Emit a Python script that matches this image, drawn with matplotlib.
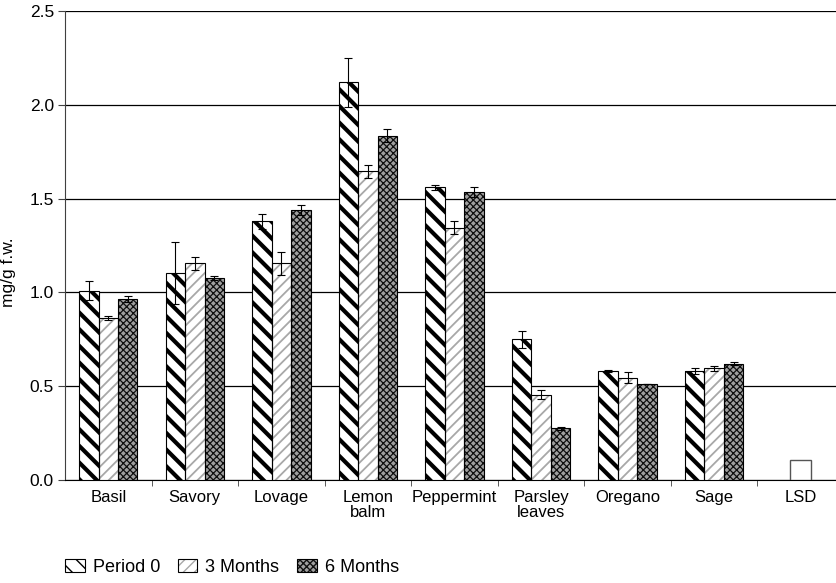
#!/usr/bin/env python3
"""Grouped bar chart of herb content (mg/g f.w.) over storage time."""

import matplotlib

matplotlib.use("Agg")
import matplotlib.pyplot as plt
import numpy as np
from matplotlib.legend_handler import HandlerTuple
from matplotlib.patches import Patch

herbs = ["Basil", "Savory", "Lovage", "Lemon\nbalm", "Peppermint",
         "Parsley\nleaves", "Oregano", "Sage"]
categories = herbs + ["LSD"]

series_names = ["Period 0", "3 Months", "6 Months"]
period0 = [1.01, 1.105, 1.38, 2.12, 1.56, 0.75, 0.58, 0.58]
months3 = [0.865, 1.155, 1.155, 1.645, 1.345, 0.455, 0.545, 0.595]
months6 = [0.965, 1.075, 1.44, 1.835, 1.535, 0.275, 0.51, 0.62]

period0_err = [0.05, 0.165, 0.04, 0.13, 0.012, 0.045, 0.005, 0.015]
months3_err = [0.01, 0.035, 0.062, 0.034, 0.035, 0.025, 0.03, 0.012]
months6_err = [0.015, 0.01, 0.027, 0.035, 0.025, 0.01, 0.0, 0.008]

lsd = 0.105

yticks = [0.0, 0.5, 1.0, 1.5, 2.0, 2.5]

plt.rcParams["font.family"] = ["Liberation Sans", "DejaVu Sans"]
plt.rcParams["font.size"] = 12.5

fig = plt.figure(figsize=(8.37, 5.83), dpi=100)
ax = fig.add_axes([65 / 837, 103 / 583, 779 / 837, 469 / 583])

x = np.arange(len(herbs))
width = 0.225

# (hatch, hatch colour, face colour, hatch linewidth) per series
STRIPE = ("\\\\", "black", "white", 3.0)
DASH = ("///", "#a8a8a8", "white", 1.3)
CHECK = ("xxxxx", "#101010", "#a0a0a0", 0.9)


def hatched(pos, vals, style):
    hatch, hcol, face, lw = style
    with plt.rc_context({"hatch.linewidth": lw}):
        bars = ax.bar(pos, vals, width, color=face, edgecolor=hcol,
                      hatch=hatch, linewidth=0, zorder=3)
    for p in bars:
        if hasattr(p, "set_hatch_linewidth"):
            p.set_hatch_linewidth(lw)
    ax.bar(pos, vals, width, fill=False, edgecolor="black", linewidth=0.8,
           zorder=3.5)


def proxy(style):
    hatch, hcol, face, lw = style
    with plt.rc_context({"hatch.linewidth": lw}):
        p = Patch(facecolor=face, edgecolor=hcol, hatch=hatch, linewidth=0)
    if hasattr(p, "set_hatch_linewidth"):
        p.set_hatch_linewidth(lw)
    return (p, Patch(fill=False, edgecolor="black", linewidth=0.8))


hatched(x - width, period0, STRIPE)
hatched(x, months3, DASH)
hatched(x + width, months6, CHECK)

ax.bar(len(herbs), lsd, width * 1.05, color="white", edgecolor="#555555",
       linewidth=1.0, zorder=3)

for offs, vals, errs in [(-width, period0, period0_err),
                         (0, months3, months3_err),
                         (width, months6, months6_err)]:
    ax.errorbar(x + offs, vals, yerr=errs, fmt="none", ecolor="black",
                elinewidth=0.8, capsize=2.8, capthick=0.8, zorder=4)

ax.set_xlim(-0.5, len(categories) - 0.5)
ax.set_ylim(0, 2.5)
ax.set_yticks(yticks)
ax.set_yticklabels([f"{v:.1f}" for v in yticks])
ax.yaxis.grid(True, color="black", linewidth=0.9)
ax.set_axisbelow(True)

ax.set_xticks(np.arange(len(categories)))
ax.set_xticklabels(categories, linespacing=1.05, fontsize=12)
ax.set_xticks(np.arange(len(categories) - 1) + 0.5, minor=True)
ax.tick_params(axis="x", which="major", length=0, pad=7)
ax.tick_params(axis="x", which="minor", length=4, direction="out",
               color="#404040")
ax.tick_params(axis="y", length=5, direction="out", color="#404040", pad=3)

for side in ["top", "right"]:
    ax.spines[side].set_visible(False)
ax.spines["left"].set_color("#404040")
ax.spines["bottom"].set_color("black")

ax.set_ylabel("mg/g f.w.", fontsize=12.5)
ax.yaxis.set_label_coords(-0.063, 0.443)

fig.legend([proxy(STRIPE), proxy(DASH), proxy(CHECK)], series_names,
           handler_map={tuple: HandlerTuple(ndivide=1, pad=0)},
           loc="center left", bbox_to_anchor=(65 / 837, 1 - 567 / 583),
           ncol=3, frameon=False, handlelength=1.1, handleheight=0.75,
           handletextpad=0.45, columnspacing=0.95, borderpad=0,
           borderaxespad=0, fontsize=13)

fig.savefig("out.png", dpi=100)
